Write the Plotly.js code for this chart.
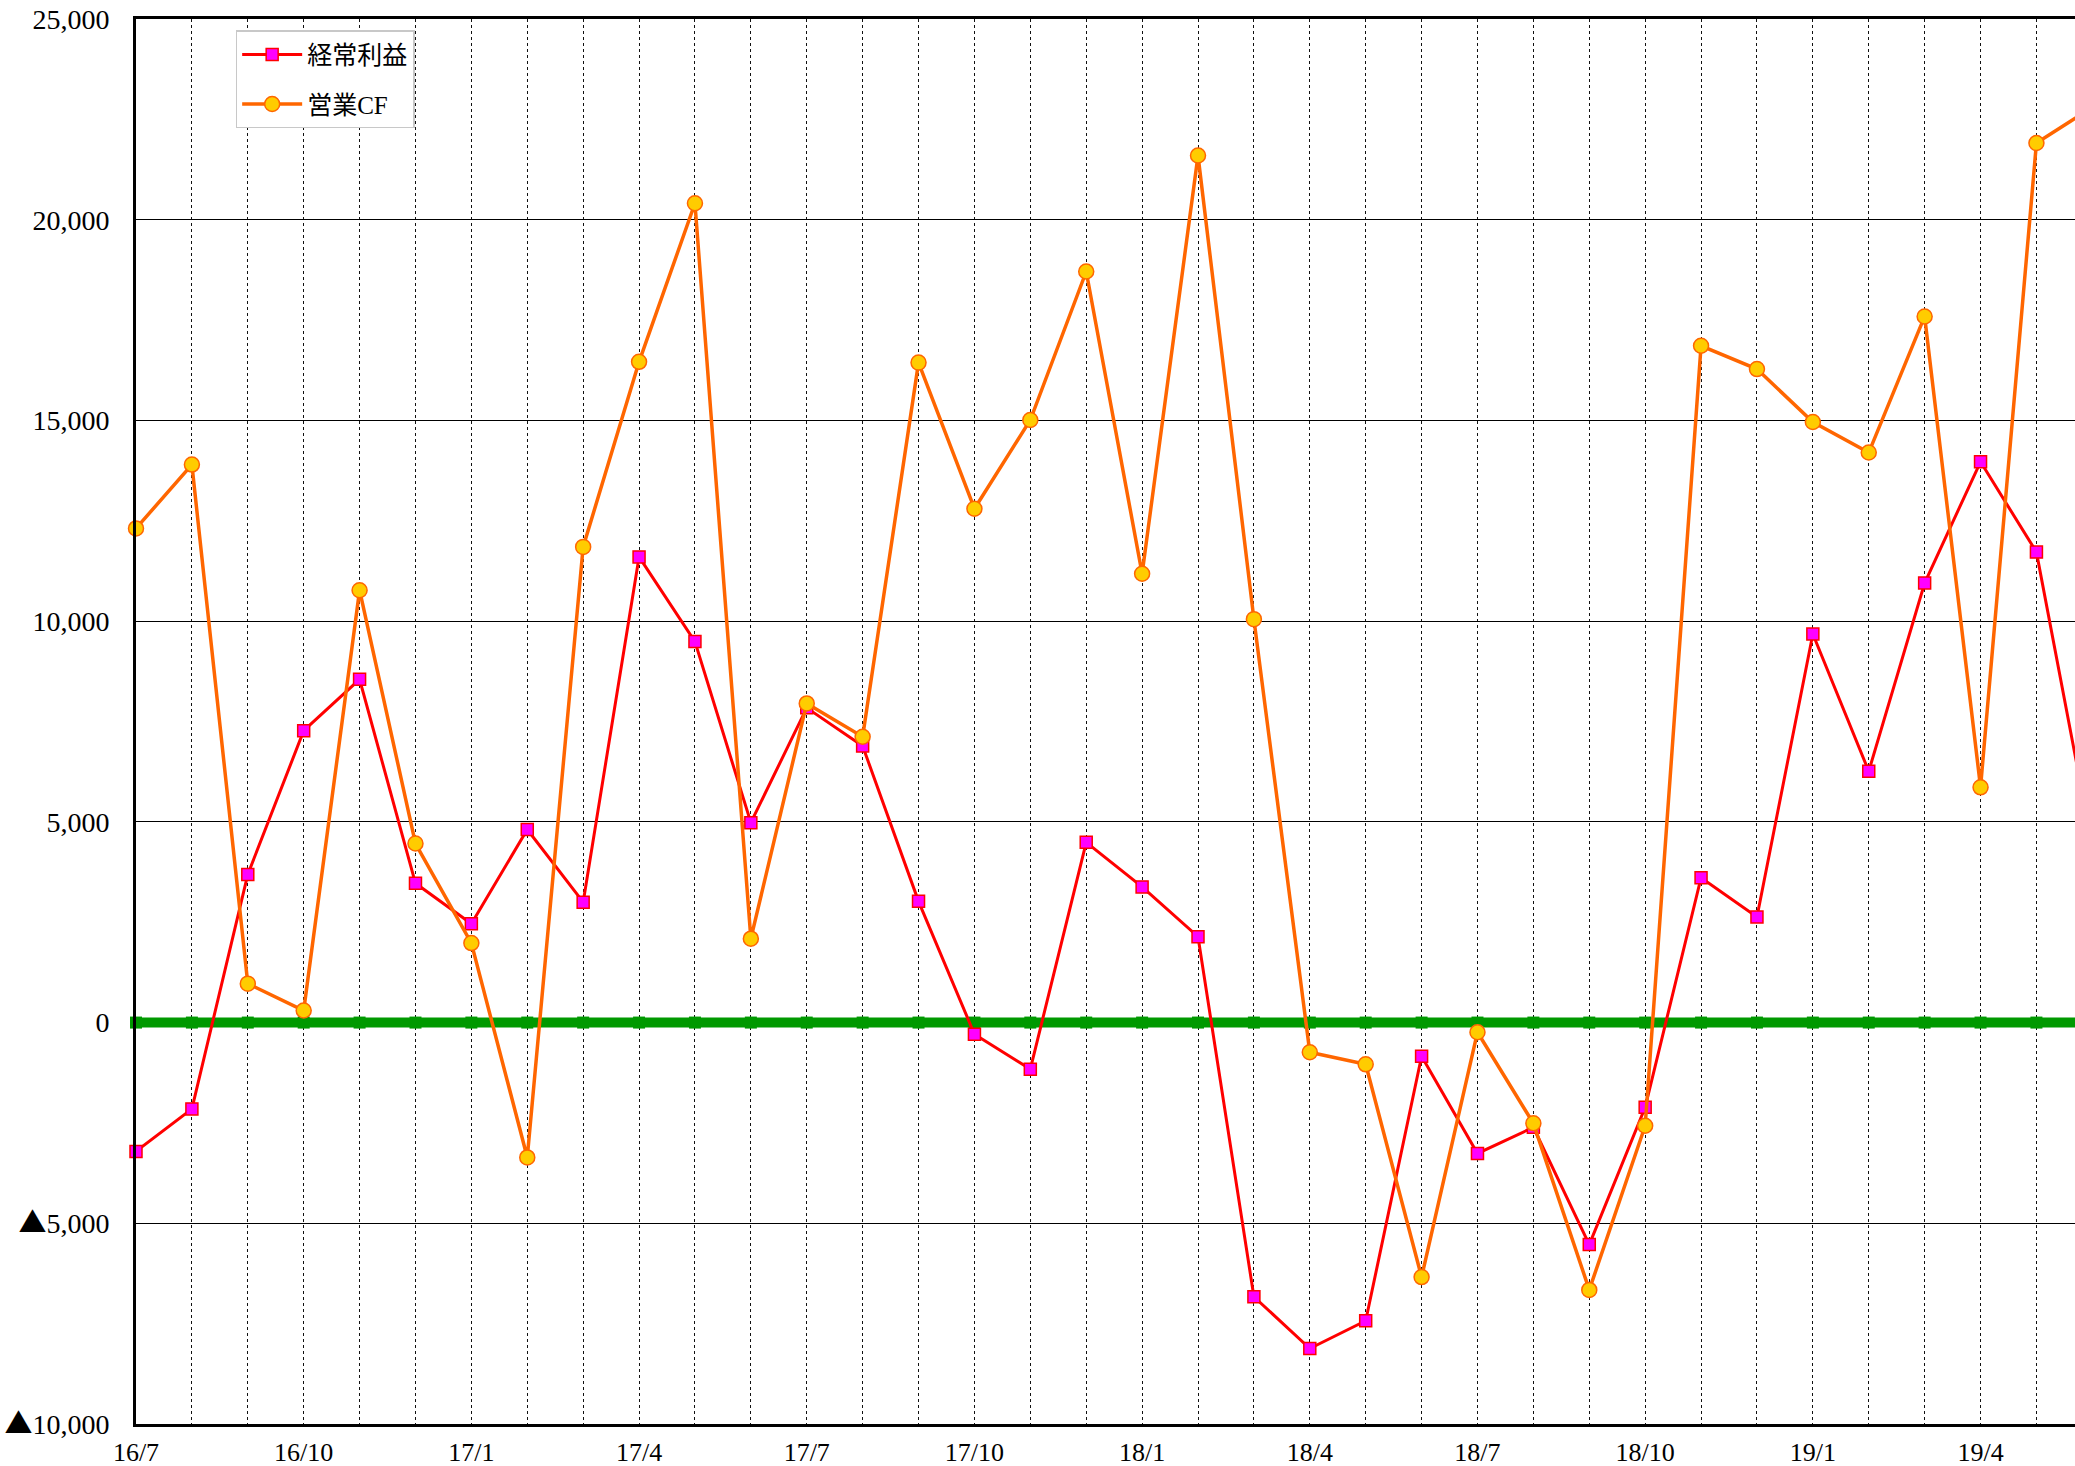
<!DOCTYPE html>
<html>
<head>
<meta charset="utf-8">
<script src="https://cdn.plot.ly/plotly-3.0.1.min.js"></script>
<style>
html,body{margin:0;padding:0;background:#fff;}
#chart{width:2075px;height:1466px;}
</style>
</head>
<body>
<div id="chart"></div>
<script>
// ---- data ----
const months = ["16/7","16/8","16/9","16/10","16/11","16/12","17/1","17/2","17/3","17/4","17/5","17/6",
                "17/7","17/8","17/9","17/10","17/11","17/12","18/1","18/2","18/3","18/4","18/5","18/6",
                "18/7","18/8","18/9","18/10","18/11","18/12","19/1","19/2","19/3","19/4","19/5","19/6"];
const ordinaryProfit = [-3210,-2150,3690,7270,8550,3470,2460,4810,3000,11600,9490,4980,
                        7840,6890,3020,-290,-1160,4490,3380,2140,-6830,-8120,-7430,-840,
                        -3260,-2610,-5530,-2110,3610,2630,9680,6260,10950,13970,11720,4400];
const operatingCF = [12310,13900,970,300,10770,4460,1980,-3360,11850,16460,20410,2090,
                     7950,7120,16440,12800,15010,18710,11180,21600,10050,-740,-1040,-6340,
                     -240,-2510,-6660,-2570,16860,16280,14960,14200,17590,5860,21910,22800];
const baseline = [0,0,0,0,0,0,0,0,0,0,0,0,0,0,0,0,0,0,0,0,0,0,0,0,0,0,0,0,0,0,0,0,0,0,0,0];
const xTickText = ["16/7","","","16/10","","","17/1","","","17/4","","",
                   "17/7","","","17/10","","","18/1","","","18/4","","",
                   "18/7","","","18/10","","","19/1","","","19/4","",""];
const yTickVals = [-10000,-5000,0,5000,10000,15000,20000,25000];
const yTickText = ["▲10,000","▲5,000","0","5,000","10,000","15,000","20,000","25,000"];
const seriesNames = ["経常利益","営業CF"];

const FONT = "Liberation Serif, 'Noto Sans CJK JP', serif";
const TRI = "<span style=\"font-family:'Noto Sans CJK JP'\">▲</span>";
const yTickDisplay = yTickText.map(t => t.replace("▲", TRI));

const traces = [
  {
    x: months, y: baseline, type: "scatter", mode: "lines+markers",
    line: {color: "#009900", width: 10},
    marker: {symbol: "square", size: 12, color: "#009900"},
    showlegend: false, hoverinfo: "skip", cliponaxis: false
  },
  {
    x: months, y: ordinaryProfit, type: "scatter", mode: "lines+markers",
    name: seriesNames[0], legendgroup: "a",
    line: {color: "#FF0000", width: 3},
    marker: {symbol: "square", size: 12, color: "#FF00FF", line: {color: "#FF0000", width: 1.5}},
    cliponaxis: false
  },
  {
    x: months, y: operatingCF, type: "scatter", mode: "lines+markers",
    name: seriesNames[1], legendgroup: "b",
    line: {color: "#FF6600", width: 3.5},
    marker: {symbol: "circle", size: 15, color: "#FFCC00", line: {color: "#FF6600", width: 1.5}},
    cliponaxis: false
  }
];

const layout = {
  width: 2075, height: 1466,
  margin: {l: 136, r: 0, t: 19, b: 42, pad: 0},
  paper_bgcolor: "#ffffff", plot_bgcolor: "#ffffff",
  font: {family: FONT, size: 27, color: "#000"},
  showlegend: true,
  legend: {
    x: 0.0514, y: 0.992, xanchor: "left", yanchor: "top",
    bgcolor: "#ffffff", bordercolor: "#c8c8c8", borderwidth: 1.5,
    font: {family: FONT, size: 25, color: "#000"},
    traceorder: "grouped", tracegroupgap: 14, itemwidth: 60
  },
  xaxis: {
    type: "category",
    range: [0, 34.69],
    tickmode: "array", tickvals: months, ticktext: xTickText,
    showgrid: true, gridcolor: "#111111", gridwidth: 1, griddash: "dot",
    showline: true, linecolor: "#000", linewidth: 3, mirror: true,
    ticks: "outside", ticklen: 3, tickcolor: "rgba(0,0,0,0)",
    tickfont: {family: FONT, size: 26, color: "#000"},
    zeroline: false, fixedrange: true
  },
  yaxis: {
    range: [-10000, 25000],
    tickmode: "array", tickvals: yTickVals, ticktext: yTickDisplay,
    showgrid: true, gridcolor: "#000000", gridwidth: 1,
    showline: true, linecolor: "#000", linewidth: 3,
    ticks: "outside", ticklen: 18, tickcolor: "rgba(0,0,0,0)",
    tickfont: {family: FONT, size: 28, color: "#000"},
    zeroline: false, fixedrange: true
  }
};

Plotly.newPlot("chart", traces, layout, {displayModeBar: false, staticPlot: true});
</script>
</body>
</html>
